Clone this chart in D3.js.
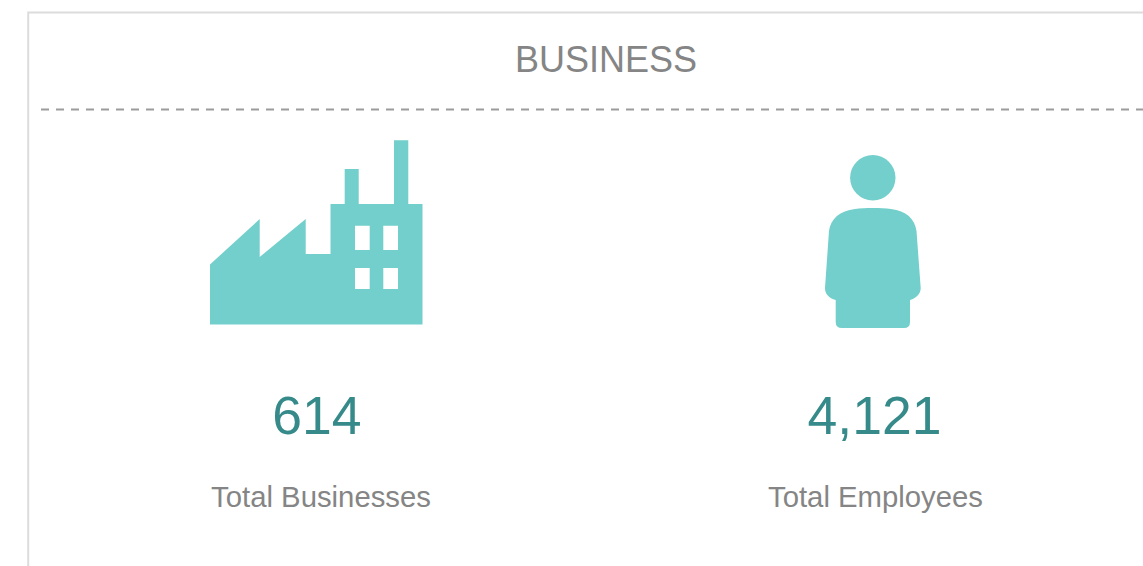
<!DOCTYPE html>
<html>
<head>
<meta charset="utf-8">
<script src="https://cdn.jsdelivr.net/npm/d3@7"></script>
<style>
html, body { margin: 0; padding: 0; background: #fff; overflow: hidden; }
text { font-family: "Liberation Sans", Arial, sans-serif; }
</style>
</head>
<body>
<div id="card"></div>
<script>
const svgWidth = 1143;
const svgHeight = 566;

const title = "BUSINESS";
const labels = ["Total Businesses", "Total Employees"];
const values = [614, 4121];

const tealLight = "#72cfcb";
const tealDark = "#368a8a";
const grey = "#858585";

const svg = d3.select("#card")
    .append("svg")
    .attr("width", svgWidth)
    .attr("height", svgHeight)
    .style("display", "block");

// card border, open on the right and at the bottom
svg.append("path")
    .attr("d", "M28.2,566V12.5H1143")
    .attr("fill", "none")
    .attr("stroke", "#dcdcdc")
    .attr("stroke-width", 2);

svg.append("text")
    .attr("x", 606)
    .attr("y", 72)
    .attr("text-anchor", "middle")
    .attr("font-size", 36)
    .attr("fill", grey)
    .text(title);

svg.append("line")
    .attr("x1", 41)
    .attr("x2", svgWidth)
    .attr("y1", 109.5)
    .attr("y2", 109.5)
    .attr("stroke", "#9c9c9c")
    .attr("stroke-width", 2)
    .attr("stroke-dasharray", "8 7");

const factoryIcon = "M210,264.5L259.7,219V257L305.7,219V254H330.5V204H344.7V169H358.7V204H394V140.3H408.3V204H422.5V324.5H210Z"
    + "M355,225.7V250H369.7V225.7ZM383.3,225.7V250H398V225.7ZM355,268V289H369.7V268ZM383.3,268V289H398V268Z";

const personBody = "M855,209C865,207.7 881,207.7 891,209C906,210.5 915,219 916.5,231L920.7,288C920.7,294 916,298 910,300V322"
    + "Q910,328 904,328H842Q835.7,328 835.7,322V300C829,298 825,294 825,288L829,231C830.5,219 840,210.5 855,209Z";

const icons = svg.append("g").attr("fill", tealLight);
icons.append("path").attr("d", factoryIcon).attr("fill-rule", "evenodd");
icons.append("path").attr("d", personBody);
icons.append("circle").attr("cx", 872.8).attr("cy", 177.7).attr("r", 22.7);

const numberX = [317, 874.5];
const labelX = [321, 875.5];

svg.selectAll(".stat-value")
    .data(values)
    .join("text")
    .attr("class", "stat-value")
    .attr("x", (d, i) => numberX[i])
    .attr("y", 434)
    .attr("text-anchor", "middle")
    .attr("font-size", 53.5)
    .attr("fill", tealDark)
    .text(d => d3.format(",")(d));

svg.selectAll(".stat-label")
    .data(labels)
    .join("text")
    .attr("class", "stat-label")
    .attr("x", (d, i) => labelX[i])
    .attr("y", 507)
    .attr("text-anchor", "middle")
    .attr("font-size", 29.3)
    .attr("fill", grey)
    .text(d => d);
</script>
</body>
</html>
